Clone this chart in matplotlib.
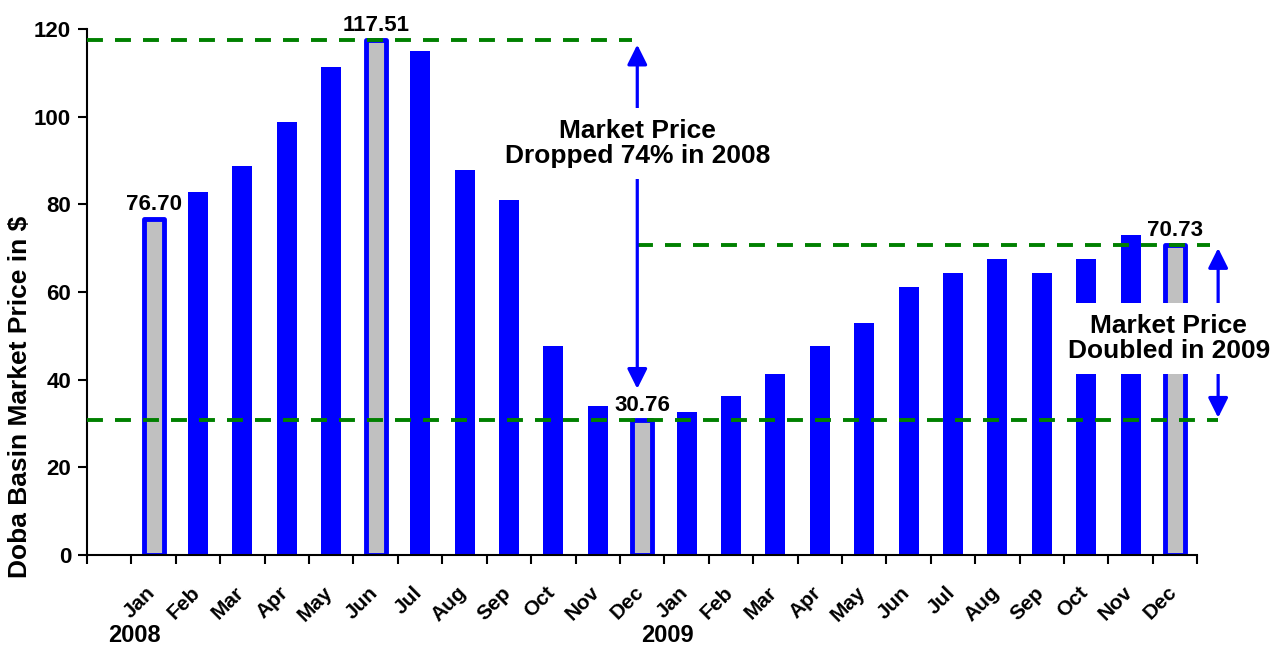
import matplotlib
matplotlib.use("Agg")
import matplotlib.pyplot as plt
import matplotlib.transforms as mtransforms

plt.rcParams["font.family"] = ["Liberation Sans", "DejaVu Sans"]
plt.rcParams["font.weight"] = "bold"

# Doba Basin monthly market price, Jan 2008 .. Dec 2009
months = ["Jan", "Feb", "Mar", "Apr", "May", "Jun",
          "Jul", "Aug", "Sep", "Oct", "Nov", "Dec"] * 2
years = ["2008", "2009"]
prices = [76.70, 82.8, 88.8, 98.8, 111.3, 117.51,
          115.0, 87.8, 81.0, 47.7, 34.0, 30.76,
          32.6, 36.3, 41.3, 47.7, 52.9, 61.1,
          64.3, 67.5, 64.3, 67.5, 73.0, 70.73]
highlight = [0, 5, 11, 23]

peak_2008 = 117.51
low_2008 = 30.76
end_2009 = 70.73

fig = plt.figure(figsize=(12.82, 6.56), dpi=100)
ax = fig.add_axes([0.0679, 0.154, 0.866, 0.802])

x = list(range(len(prices)))
colors = ["#C0C0C0" if i in highlight else "blue" for i in x]
bars = ax.bar(x, prices, width=0.45, color=colors, zorder=2)
for i in highlight:
    bars[i].set_edgecolor("blue")
    bars[i].set_linewidth(3.5)
    bars[i].set_joinstyle("round")
    ax.annotate(f"{prices[i]:.2f}", (i, prices[i]), xytext=(0, 3),
                textcoords="offset points", ha="center", va="bottom",
                fontsize=16, fontweight="bold", zorder=5)

ax.set_xlim(-1.5, len(prices) - 0.5)
ax.set_ylim(0, 120)
ax.set_yticks(range(0, 121, 20))
ax.tick_params(axis="y", labelsize=16, width=1.5, length=6.5, pad=5)

# tick marks between categories, labels at bar centres
ax.set_xticks([i - 0.5 for i in range(-1, len(prices) + 1)])
ax.set_xticklabels([])
ax.set_xticks(x, minor=True)
ax.set_xticklabels(months, minor=True, rotation=45, ha="right",
                   rotation_mode="anchor", fontsize=15)
ax.tick_params(axis="x", which="major", width=1.5, length=6.5)
ax.tick_params(axis="x", which="minor", length=0, pad=20)
shift = mtransforms.ScaledTranslation(-8 / 100, 0, fig.dpi_scale_trans)
for lab in ax.get_xticklabels(minor=True):
    lab.set_transform(lab.get_transform() + shift)

trans = mtransforms.blended_transform_factory(ax.transData, ax.transAxes)
for k, yr in enumerate(years):
    ax.text(12 * k - 0.44, -0.153, yr, transform=trans, ha="center",
            va="center", fontsize=17, fontweight="bold")

for s in ["top", "right"]:
    ax.spines[s].set_visible(False)
for s in ["left", "bottom"]:
    ax.spines[s].set_linewidth(1.5)

ax.set_ylabel("Doba Basin Market Price in $", fontsize=19, fontweight="bold")
ax.yaxis.set_label_coords(-0.050, 0.30)

# reference lines
dash = (0, (4.1, 3.1))
ax.plot([-1.5, 10.77], [peak_2008, peak_2008], color="green", lw=2.8,
        linestyle=dash, clip_on=False, zorder=3)
ax.plot([10.89, 23.79], [end_2009, end_2009], color="green", lw=2.8,
        linestyle=dash, clip_on=False, zorder=3)
ax.plot([-1.5, 23.97], [low_2008, low_2008], color="green", lw=2.8,
        linestyle=dash, clip_on=False, zorder=3)

# arrows with labels
arrow = dict(arrowstyle="<|-|>", color="blue", lw=2.3, mutation_scale=30,
             shrinkA=0, shrinkB=0)
ax.annotate("", xy=(10.89, 116.4), xytext=(10.89, 37.9),
            arrowprops=arrow, annotation_clip=False, zorder=4)
ax.annotate("", xy=(23.97, 70.0), xytext=(23.97, 31.3),
            arrowprops=arrow, annotation_clip=False, zorder=4)

box = dict(facecolor="white", edgecolor="none", pad=8)
ax.text(10.89, 93.8, "Market Price\nDropped 74% in 2008", ha="center",
        va="center", fontsize=19, fontweight="bold", bbox=box, zorder=6,
        linespacing=1.05)
ax.text(22.86, 49.3, "Market Price\nDoubled in 2009", ha="center",
        va="center", fontsize=19, fontweight="bold", bbox=box, zorder=6,
        linespacing=1.05, clip_on=False)

fig.savefig("out.png", dpi=100)
